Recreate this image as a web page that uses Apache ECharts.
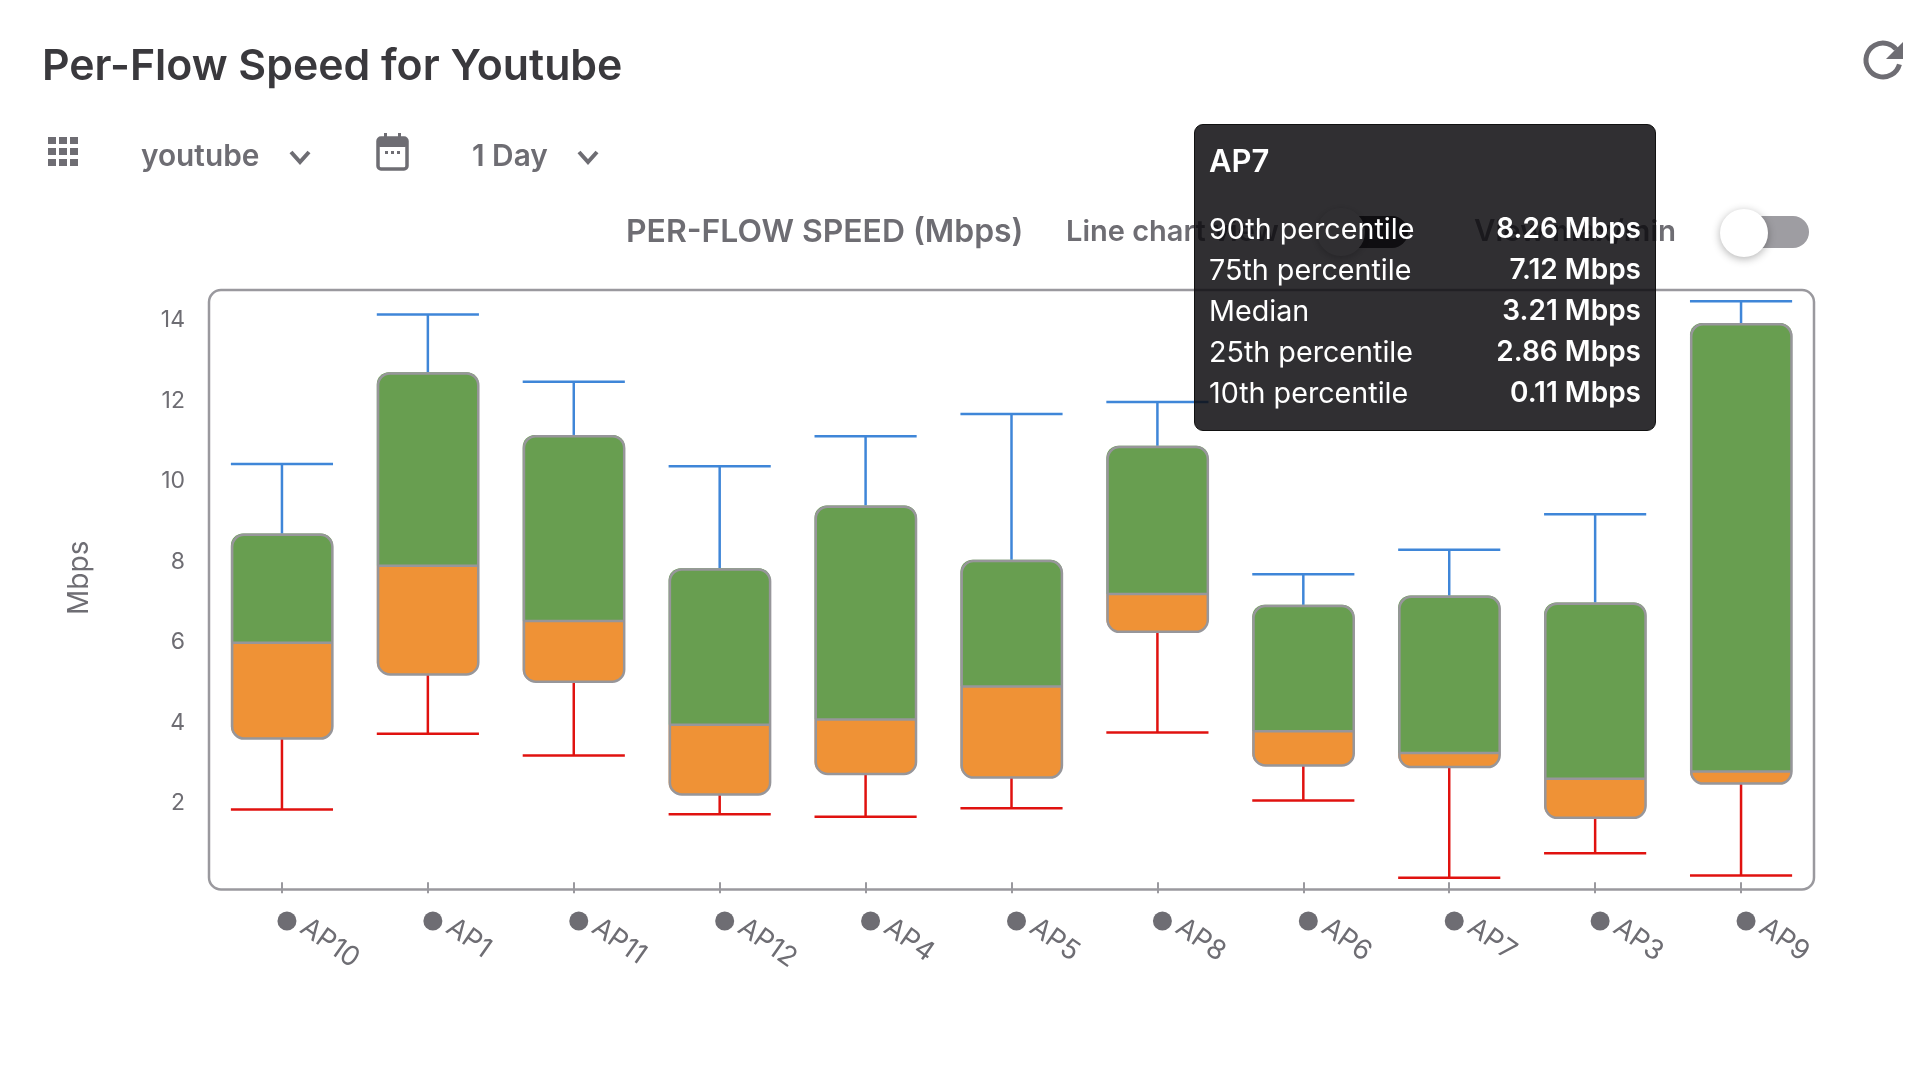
<!DOCTYPE html>
<html><head><meta charset="utf-8">
<style>html,body{margin:0;padding:0;background:#fff;overflow:hidden}#c{width:1920px;height:1080px}</style>
<script src="https://cdn.jsdelivr.net/npm/echarts@6/dist/echarts.min.js"></script>
</head><body><div id="c"></div>
<script>
const categories = ['AP10','AP1','AP11','AP12','AP4','AP5','AP8','AP6','AP7','AP3','AP9'];
const p90 = [10.39,14.10,12.43,10.33,11.08,11.63,11.93,7.65,8.26,9.14,14.43];
const p75 = [8.66,12.67,11.11,7.80,9.36,8.01,10.84,6.89,7.12,6.95,13.89];
const median = [5.95,7.86,6.49,3.91,4.04,4.86,7.16,3.75,3.21,2.57,2.75];
const p25 = [3.57,5.16,4.98,2.18,2.69,2.60,6.22,2.90,2.86,1.60,2.45];
const p10 = [1.81,3.69,3.15,1.69,1.63,1.84,3.72,2.03,0.11,0.72,0.17];
const yTicks = [2,4,6,8,10,12,14];
const activeIndex = 8;

const GREY='#6e6d73', FONT='Inter, "Noto Sans", sans-serif';
const txt=(x,y,text,size,weight,fill,align)=>({type:'text',x,y,silent:true,style:{text,font:`${weight} ${size}px ${FONT}`,fill:fill||GREY,textAlign:align||'left',textVerticalAlign:'middle'}});
const chev=(x,y)=>({type:'polyline',silent:true,shape:{points:[[x,y],[x+9,y+10],[x+18,y]]},style:{stroke:GREY,lineWidth:4,fill:null}});
const gridIcon=[];
for(let r=0;r<3;r++)for(let c=0;c<3;c++)gridIcon.push({type:'rect',silent:true,shape:{x:48+c*11,y:137+r*11,width:8,height:7},style:{fill:GREY}});
const chrome=[
 txt(42,67,'Per-Flow Speed for Youtube',42.8,600,'#3a393d'),
 ...gridIcon,
 txt(141,157,'youtube',29.8,600),
 chev(291,152),
 {type:'rect',silent:true,shape:{x:378,y:138,width:29,height:31,r:3},style:{fill:'#fff',stroke:GREY,lineWidth:3.5}},
 {type:'rect',silent:true,shape:{x:378,y:138,width:29,height:9,r:2},style:{fill:GREY}},
 {type:'rect',silent:true,shape:{x:384,y:133,width:3,height:6},style:{fill:GREY}},
 {type:'rect',silent:true,shape:{x:398,y:133,width:3,height:6},style:{fill:GREY}},
 {type:'rect',silent:true,shape:{x:385,y:151,width:3,height:3},style:{fill:GREY}},
 {type:'rect',silent:true,shape:{x:391,y:151,width:3,height:3},style:{fill:GREY}},
 {type:'rect',silent:true,shape:{x:397,y:151,width:3,height:3},style:{fill:GREY}},
 txt(472,157,'1 Day',29.8,600),
 chev(579,152),
 {type:'arc',silent:true,shape:{cx:1883,cy:60,r:17,startAngle:0.26,endAngle:5.6,clockwise:true},style:{stroke:GREY,lineWidth:5,fill:null}},
 {type:'polygon',silent:true,shape:{points:[[1903,42],[1903,59],[1886,59]]},style:{fill:GREY}},
 txt(626,232,'PER-FLOW SPEED (Mbps)',31.9,600),
 txt(1066,232,'Line chart view',29,600),
 {type:'rect',silent:true,shape:{x:1322,y:216,width:86,height:32,r:16},style:{fill:'#222'}},
 {type:'circle',silent:true,shape:{cx:1341,cy:232,r:24},style:{fill:'#fff',shadowBlur:8,shadowColor:'rgba(0,0,0,.3)',shadowOffsetY:2}},
 txt(1474,232,'View max/min',29.5,600),
 {type:'rect',silent:true,shape:{x:1744,y:216,width:65,height:32,r:16},style:{fill:'#9e9da2'}},
 {type:'circle',silent:true,shape:{cx:1744,cy:233,r:24},style:{fill:'#fff',shadowBlur:8,shadowColor:'rgba(0,0,0,.3)',shadowOffsetY:2}},
 {type:'rect',silent:true,z:-1,shape:{x:209,y:290,width:1605,height:599.5,r:12},style:{fill:'#fff',stroke:'#9a999e',lineWidth:2.5}},
];

const option={
 animation:false,
 textStyle:{fontFamily:FONT},
 grid:{left:209,top:290,width:1605,height:599.5,containLabel:false},
 tooltip:{trigger:'item',alwaysShowContent:true,showDelay:0,hideDelay:0,transitionDuration:0,padding:0,
   borderWidth:0,backgroundColor:'transparent',extraCssText:'box-shadow:none;',
   position:[1194,124],
   formatter:(p)=>{const i=p.dataIndex;
     const rows=[['90th percentile',p90[i]],['75th percentile',p75[i]],['Median',median[i]],['25th percentile',p25[i]],['10th percentile',p10[i]]];
     return `<div style="box-sizing:border-box;width:462px;height:307px;background:rgba(12,10,14,.85);border:1px solid #111;border-radius:9px;padding:16px 14px 0 14px;color:#fff;font-family:${FONT.replace(/"/g,"'")};font-size:28.7px;line-height:41px">`+
     `<div style="font-weight:600;font-size:31px;line-height:40px;margin-bottom:27px">${categories[i]}</div>`+
     rows.map(r=>`<div style="display:flex;justify-content:space-between"><span>${r[0]}</span><span style="font-weight:600;font-size:28px">${r[1].toFixed(2)} Mbps</span></div>`).join('')+`</div>`;}
 },
 xAxis:[{type:'category',data:categories,
   axisLine:{show:false},
   axisTick:{show:true,alignWithLabel:true,length:11,lineStyle:{color:'#9a999e',width:2}},
   axisLabel:{rotate:-35,interval:0,margin:20,color:GREY,fontSize:27.5,align:'left',verticalAlign:'middle',
     formatter:v=>`{t|${v}}`,
     rich:{t:{fontSize:27.5,color:GREY,padding:[0,0,0,26]}}}
 },{type:'category',data:categories,position:'bottom',
   axisLine:{show:false},
   axisTick:{show:true,inside:true,alignWithLabel:true,length:4,lineStyle:{color:'#9a999e',width:2}},
   axisLabel:{interval:0,margin:22,formatter:()=>`{d| }`,padding:[0,0,0,10],
     rich:{d:{width:19,height:19,borderRadius:10,backgroundColor:GREY}}}
 }],
 yAxis:{type:'value',min:-0.18,max:14.71,name:'Mbps',nameLocation:'middle',nameGap:115,nameTextStyle:{color:GREY,fontSize:28,fontWeight:400,padding:[0,0,0,24]},
   axisLine:{show:false},axisTick:{show:false},splitLine:{show:false},
   axisLabel:{customValues:yTicks,color:GREY,margin:24,formatter:v=>`{n|${v}}`,rich:{n:{fontSize:23,color:GREY,padding:[3,0,0,0]}}}
 },
 graphic:{elements:chrome},
 series:[
  {type:'bar',name:'base',stack:'b',barWidth:'70%',silent:true,z:2,itemStyle:{color:'transparent'},tooltip:{show:false},data:p25},
  {type:'bar',name:'25th to median',stack:'b',barWidth:'70%',z:2,itemStyle:{color:'#ef9236',borderRadius:[0,0,12,12]},emphasis:{disabled:true},data:median.map((m,i)=>+(m-p25[i]).toFixed(2))},
  {type:'bar',name:'median to 75th',stack:'b',barWidth:'70%',z:2,itemStyle:{color:'#689e50',borderRadius:[12,12,0,0]},emphasis:{disabled:true},data:p75.map((q,i)=>+(q-median[i]).toFixed(2))},
  {type:'custom',name:'whiskers and outlines',silent:true,z:3,clip:false,tooltip:{show:false},
   encode:{x:0,y:[1,2,3,4,5]},
   data:categories.map((c,i)=>[i,p90[i],p75[i],median[i],p25[i],p10[i]]),
   renderItem:(params,api)=>{
     const x=api.value(0),w=api.size([1,0])[0]*0.7;
     const cx=api.coord([x,0])[0],y=k=>api.coord([x,api.value(k)])[1];
     const yHi=y(1),yQ3=y(2),yMed=y(3),yQ1=y(4),yLo=y(5);
     const ln=(x1,y1,x2,y2,c)=>({type:'line',shape:{x1,y1,x2,y2},style:{stroke:c,lineWidth:2.5}});
     const b=1.25;
     return {type:'group',children:[
       ln(cx,yHi,cx,yQ3,'#3f86d8'),ln(cx-w/2,yHi,cx+w/2,yHi,'#3f86d8'),
       ln(cx,yQ1,cx,yLo,'#e0120f'),ln(cx-w/2,yLo,cx+w/2,yLo,'#e0120f'),
       {type:'rect',shape:{x:cx-w/2+b,y:yQ3+b,width:w-2*b+0.6,height:yQ1-yQ3-b,r:12},style:{fill:null,stroke:'#97969a',lineWidth:2.5}},
       ln(cx-w/2+b,yMed,cx+w/2-b,yMed,'#97969a')]};
   }}
 ]
};
const chart=echarts.init(document.getElementById('c'),null,{renderer:'canvas'});
chart.setOption(option);
chart.dispatchAction({type:'showTip',seriesIndex:2,dataIndex:activeIndex});
</script></body></html>
